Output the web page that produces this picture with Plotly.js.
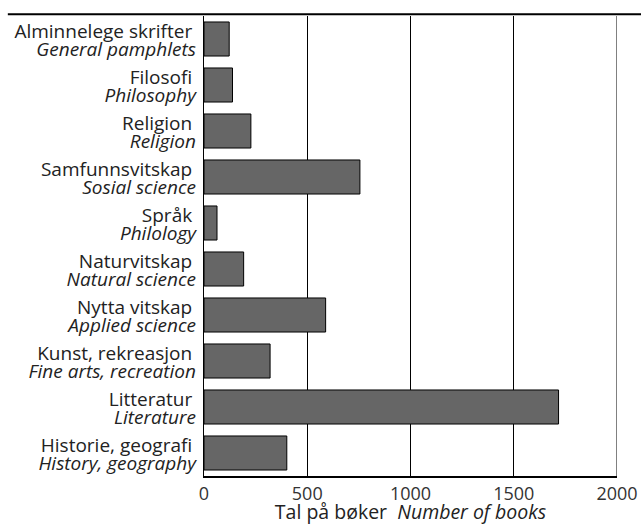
<!DOCTYPE html>
<html>
<head>
<meta charset="utf-8">
<script src="https://cdn.plot.ly/plotly-3.0.1.min.js"></script>
<style>html,body{margin:0;padding:0;background:#fff;}#chart{width:641px;height:525px;}</style>
</head>
<body>
<div id="chart"></div>
<script>
const categoriesNo = ["Alminnelege skrifter","Filosofi","Religion","Samfunnsvitskap","Språk","Naturvitskap","Nytta vitskap","Kunst, rekreasjon","Litteratur","Historie, geografi"];
const categoriesEn = ["General pamphlets","Philosophy","Religion","Sosial science","Philology","Natural science","Applied science","Fine arts, recreation","Literature","History, geography"];
const bookCounts = [122, 138, 227, 755, 63, 192, 589, 320, 1717, 401];
const xTickValues = [0, 500, 1000, 1500, 2000];

const font = "'Open Sans', 'Noto Sans', sans-serif";
const n = categoriesNo.length;
const yRange = [n - 0.5, -0.5];
const positions = categoriesEn.map((_, i) => i);

const bars = {
  type: 'bar',
  orientation: 'h',
  x: bookCounts,
  y: categoriesNo,
  marker: {color: '#666666', line: {color: '#000000', width: 1}},
  width: 0.74,
  hoverinfo: 'none'
};

// invisible companion trace so the second (English) label axis is drawn
const englishAxisCarrier = {
  type: 'scatter',
  mode: 'markers',
  x: bookCounts,
  y: positions,
  yaxis: 'y2',
  marker: {opacity: 0, size: 1},
  hoverinfo: 'none',
  showlegend: false
};

const layout = {
  width: 641, height: 525,
  margin: {l: 204, r: 24, t: 16, b: 49},
  paper_bgcolor: '#fff', plot_bgcolor: '#fff',
  showlegend: false,
  font: {family: font, size: 19, color: '#222'},
  xaxis: {
    range: [0, 2000],
    tickvals: xTickValues,
    ticktext: xTickValues.map(String),
    showgrid: true, gridcolor: '#000', gridwidth: 1,
    zeroline: false,
    showline: true, linecolor: '#000', linewidth: 2,
    ticks: '',
    tickfont: {family: font, size: 18, color: '#333'},
    title: {text: "Tal på bøker  <i>Number of books</i>", font: {family: font, size: 19.5, color: '#222'}, standoff: 16},
    fixedrange: true
  },
  yaxis: {
    type: 'category',
    categoryorder: 'array',
    categoryarray: categoriesNo,
    range: yRange,
    showgrid: false, zeroline: false,
    showline: true, linecolor: '#000', linewidth: 1,
    ticks: '',
    ticklabelstandoff: 7,
    ticklabelshift: 8,
    tickfont: {family: font, size: 19, color: '#222'},
    fixedrange: true
  },
  yaxis2: {
    overlaying: 'y',
    side: 'left',
    type: 'linear',
    range: yRange,
    tickmode: 'array',
    tickvals: positions,
    ticktext: categoriesEn.map(t => '<i>' + t + '</i>'),
    showgrid: false, zeroline: false, showline: false,
    ticks: '',
    ticklabelstandoff: 7,
    ticklabelshift: -10,
    tickfont: {family: font, size: 19, color: '#222'},
    fixedrange: true
  },
  shapes: [
    {type: 'line', xref: 'paper', yref: 'paper', x0: -0.475, x1: 1.06, y0: 1.004, y1: 1.004, line: {color: '#000', width: 2}},
    {type: 'line', xref: 'x', yref: 'paper', x0: 2000, x1: 2000, y0: 0, y1: 1, line: {color: '#000', width: 1}}
  ]
};

Plotly.newPlot('chart', [bars, englishAxisCarrier], layout, {staticPlot: true, displayModeBar: false});
</script>
</body>
</html>
